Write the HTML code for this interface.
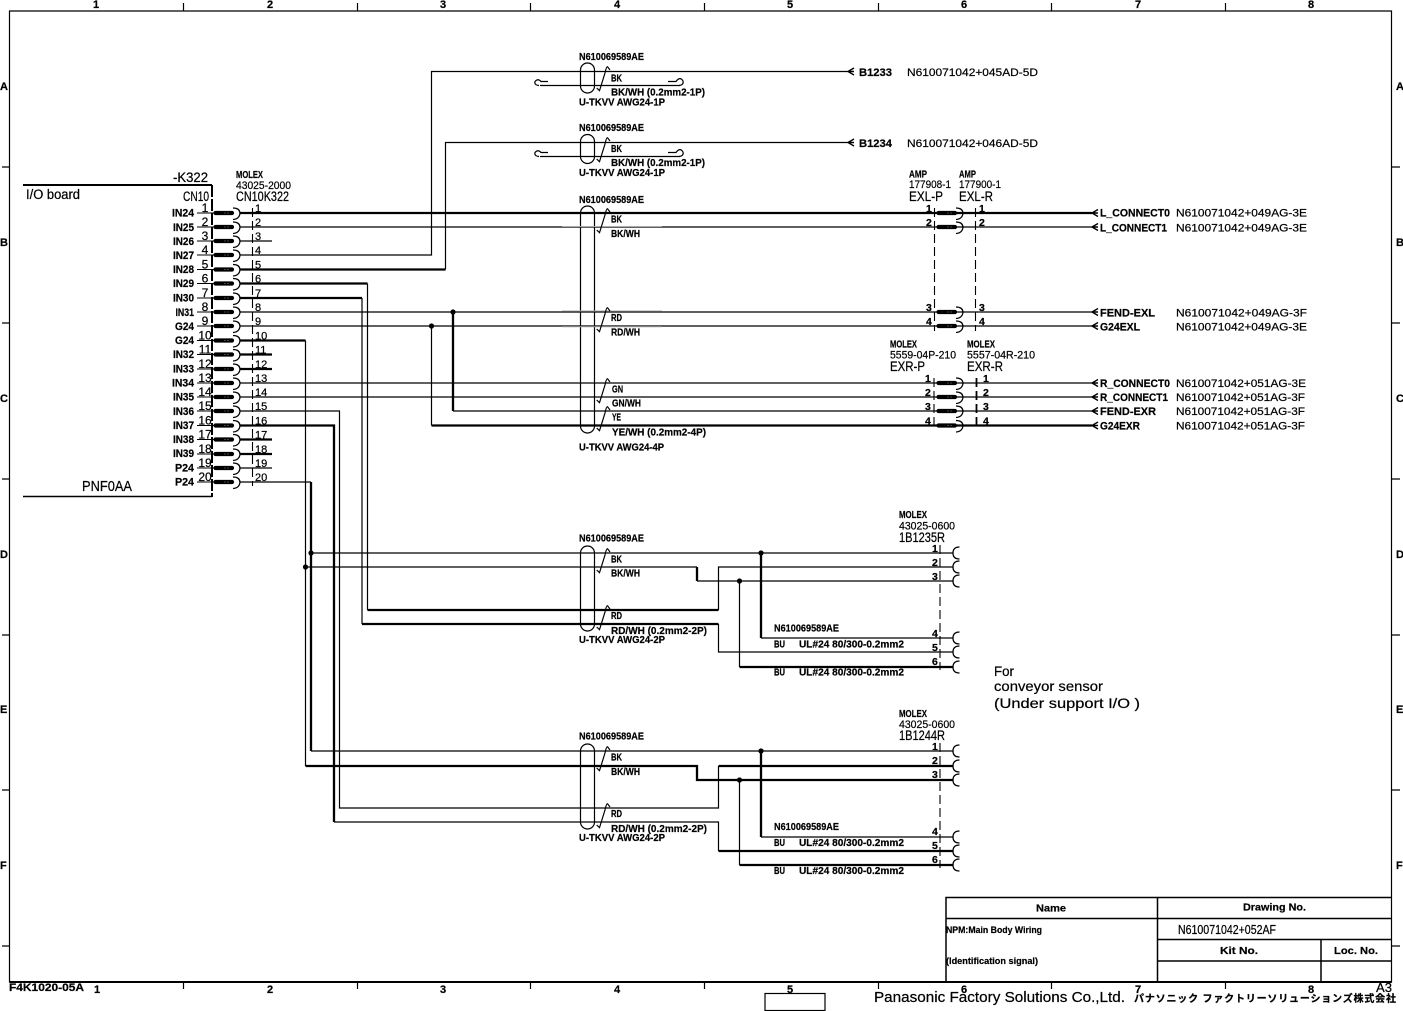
<!DOCTYPE html>
<html><head><meta charset="utf-8"><title>Wiring diagram</title>
<style>
html,body{margin:0;padding:0;background:#fff}
svg{display:block}
text{font-family:"Liberation Sans","Noto Sans CJK JP",sans-serif;fill:#000;stroke:#000;stroke-width:.22px}
.b{font-size:10.5px;font-weight:bold}
.m{font-size:11px;font-weight:bold}
.n{font-size:12px}
.l{font-size:13.5px}
.g{font-size:11px;font-weight:bold}
</style></head><body>
<svg xmlns="http://www.w3.org/2000/svg" width="1403" height="1011" viewBox="0 0 1403 1011">
<defs>
<g id="c" fill="none" stroke="#000"><path d="M1.5 0H18" stroke-width="4.200" stroke-linecap="round"/><path d="M10 0H16" stroke="#888" stroke-width=".5" stroke-dasharray="2 1"/><path d="M19 -5Q25.500 -5 26 0Q25.500 6 19 6.500" stroke-width="1.300"/></g>
<path id="e" d="M6.500 -6Q0 -6 0 0Q0 6 6.500 6" fill="none" stroke="#000" stroke-width="1.300"/>
<path id="a" d="M6 -3.500L0 0L6 3.500M0 0H6" fill="none" stroke="#000" stroke-width="1.400"/>
<path id="t" d="M596.700 17L599.500 19.700L605 2Q606.300 -4.300 607.500 -4.300L610 -1" fill="none" stroke="#000" stroke-width="1.200"/>
</defs>

<!-- frame -->
<g fill="none" stroke="#000">
<path d="M9.500 11H1391.500V982H9.500Z" stroke-width="1.200"/>
<path d="M9.500 982H1391.500" stroke-width="2"/>
<path d="M183.500 3V11M357.500 3V11M530.500 3V11M704.500 3V11M878.500 3V11M1051.500 3V11M1225.500 3V11" stroke-width="1.200"/>
<path d="M183.500 982V989M357.500 982V989M530.500 982V989M704.500 982V989M878.500 982V989M1051.500 982V989M1225.500 982V989" stroke-width="1.200"/>
<path d="M2 167H9M2 323H9M2 479H9M2 635H9M2 790H9M2 946H9M1392 167H1400M1392 323H1400M1392 479H1400M1392 635H1400M1392 790H1400M1392 946H1400" stroke-width="1.200"/>
<!-- title block -->
<path d="M946 981V897.500H1391M1157.500 897.500V981M946 918.500H1391M1157.500 939.500H1391M1157.500 961H1391M1321 939.500V981M946 897.500V981" stroke-width="1.500"/>
<rect x="765" y="993.500" width="60" height="17" stroke-width="1.200"/>
</g>
<g class="b" font-size="10">
<text x="93" y="8" class="m">1</text><text x="267" y="8" class="m">2</text><text x="440" y="8" class="m">3</text><text x="614" y="8" class="m">4</text><text x="787" y="8" class="m">5</text><text x="961" y="8" class="m">6</text><text x="1135" y="8" class="m">7</text><text x="1308" y="8" class="m">8</text>
<text x="94" y="993" class="m">1</text><text x="267" y="993" class="m">2</text><text x="440" y="993" class="m">3</text><text x="614" y="993" class="m">4</text><text x="787" y="993" class="m">5</text><text x="961" y="993" class="m">6</text><text x="1135" y="993" class="m">7</text><text x="1308" y="993" class="m">8</text>
<text x="0" y="90" class="m">A</text><text x="0" y="246" class="m">B</text><text x="0" y="402" class="m">C</text><text x="0" y="558" class="m">D</text><text x="0" y="713" class="m">E</text><text x="0" y="869" class="m">F</text>
<text x="1396" y="90" class="m">A</text><text x="1396" y="246" class="m">B</text><text x="1396" y="402" class="m">C</text><text x="1396" y="558" class="m">D</text><text x="1396" y="713" class="m">E</text><text x="1396" y="869" class="m">F</text>
</g>

<!-- board -->
<g fill="none" stroke="#000">
<path d="M23 185H212" stroke-width="2"/>
<path d="M23 496.500H212" stroke-width="1.500"/>
<path d="M212 185V497" stroke-width="2" stroke-dasharray="12 2"/>
<path d="M252.500 208V486" stroke-width="1.100" stroke-dasharray="9 4"/>
<path d="M197 213H214M197 227H214M197 241H214M197 255H214M197 269.500H214M197 283.500H214M197 298H214M197 312H214M197 326H214M197 340.500H214M197 354.500H214M197 369H214M197 383H214M197 397H214M197 411H214M197 425.500H214M197 439.500H214M197 454H214M197 468H214M197 482H214" stroke-width="1.100"/>
</g>

<!-- thin wires -->
<path fill="none" stroke="#000" stroke-width="1.200" d="M240 227H1092M240 241H272M240 255H431.500V71.500H848M445.500 269.500V142.500H848M240 312H1092M240 326H1092M240 383H1092M240 397H1092M240 411H339.500V808H718.500V766M240 468H272M240 482H311M305.500 340.500V766M311 553H953M305.500 567H697M697 581H953M718.500 610V567H953M761 638H953M739.500 581V667M718.500 624V652H953M311 751H953M718.500 808V766M334 822H718.500V851M761 837H953M739.500 780V865M367.500 283.500V610M362 298V624M453 411H1092M431.500 326V425.500M540 85.500H680M540 156.500H680"/>
<!-- thick wires -->
<path fill="none" stroke="#000" stroke-width="2.300" d="M240 213H1092M240 269.500H445.500M240 283.500H367.500M240 298H362M240 340.500H305.500M240 354.500H272M240 369H272M240 425.500H334V822M240 439.500H272M240 454H272M311 482V751M367.500 610H718.500M362 624H718.500M697 567V581M761 553V638M739.500 667H953M305.500 766H697V780H953M718.500 766H953M718.500 851H953M761 751V837M739.500 865H953M453 312V411M431.500 425.500H1092"/>
<!-- dots -->
<g fill="#000"><circle cx="453" cy="312" r="2.600"/><circle cx="431.500" cy="326" r="2.600"/><circle cx="311" cy="553" r="2.600"/><circle cx="305.500" cy="567" r="2.600"/><circle cx="761" cy="553" r="2.600"/><circle cx="739.500" cy="581" r="2.600"/><circle cx="761" cy="751" r="2.600"/><circle cx="739.500" cy="780" r="2.600"/></g>

<!-- curls -->
<g fill="none" stroke="#000" stroke-width="1.200">
<path d="M548 81.500H541Q538 78 535 81.500Q534 85 539 85.500"/><path d="M668 81.500H676Q680 76 683 81Q684 85 679 85.500"/>
<path d="M548 152.500H541Q538 149 535 152.500Q534 156 539 156.500"/><path d="M668 152.500H676Q680 147 683 152Q684 156 679 156.500"/>
</g>

<!-- cable ovals -->
<g fill="none" stroke="#000" stroke-width="1.200">
<rect x="580.500" y="63" width="14" height="30" rx="7"/>
<rect x="580.500" y="134.500" width="14" height="29" rx="7"/>
<rect x="580.500" y="206" width="14" height="227" rx="7"/>
<rect x="580.500" y="546" width="14" height="85" rx="7"/>
<rect x="580.500" y="744" width="14" height="85" rx="7"/>
</g>
<path d="M562 226.500H662M562 311H662M562 326.800H662" stroke="#aaa" stroke-width="1" fill="none"/>
<use href="#t" transform="translate(0,71)"/><use href="#t" transform="translate(0,142)"/><use href="#t" transform="translate(0,213)"/><use href="#t" transform="translate(0,312)"/><use href="#t" transform="translate(0,383)"/><use href="#t" transform="translate(0,411)"/><use href="#t" transform="translate(0,553)"/><use href="#t" transform="translate(0,610)"/><use href="#t" transform="translate(0,751)"/><use href="#t" transform="translate(0,808)"/>

<!-- left connectors -->
<use href="#c" x="214" y="213"/><use href="#c" x="214" y="227"/><use href="#c" x="214" y="241"/><use href="#c" x="214" y="255"/><use href="#c" x="214" y="269.500"/><use href="#c" x="214" y="283.500"/><use href="#c" x="214" y="298"/><use href="#c" x="214" y="312"/><use href="#c" x="214" y="326"/><use href="#c" x="214" y="340.500"/><use href="#c" x="214" y="354.500"/><use href="#c" x="214" y="369"/><use href="#c" x="214" y="383"/><use href="#c" x="214" y="397"/><use href="#c" x="214" y="411"/><use href="#c" x="214" y="425.500"/><use href="#c" x="214" y="439.500"/><use href="#c" x="214" y="454"/><use href="#c" x="214" y="468"/><use href="#c" x="214" y="482"/>
<!-- middle connectors -->
<use href="#c" x="937" y="213"/><use href="#c" x="937" y="227"/><use href="#c" x="937" y="312"/><use href="#c" x="937" y="326"/><use href="#c" x="937" y="383"/><use href="#c" x="937" y="397"/><use href="#c" x="937" y="411"/><use href="#c" x="937" y="425.500"/>
<path d="M934.500 208V331M975.500 208V331M934 378V430" fill="none" stroke="#000" stroke-width="1.100" stroke-dasharray="9 4"/>
<path d="M976.500 378V430" fill="none" stroke="#000" stroke-width="1.800" stroke-dasharray="9 4"/>
<!-- end connectors -->
<use href="#e" x="953" y="553"/><use href="#e" x="953" y="567"/><use href="#e" x="953" y="581"/><use href="#e" x="953" y="638"/><use href="#e" x="953" y="652"/><use href="#e" x="953" y="667"/><use href="#e" x="953" y="751"/><use href="#e" x="953" y="766"/><use href="#e" x="953" y="780"/><use href="#e" x="953" y="837"/><use href="#e" x="953" y="851"/><use href="#e" x="953" y="865"/>
<path d="M940 545V670M940 743V868" fill="none" stroke="#000" stroke-width="1.100" stroke-dasharray="9 4"/>
<!-- arrows -->
<use href="#a" x="848" y="71.500"/><use href="#a" x="848" y="142.500"/><use href="#a" x="1092" y="213"/><use href="#a" x="1092" y="227"/><use href="#a" x="1092" y="312"/><use href="#a" x="1092" y="326"/><use href="#a" x="1092" y="383"/><use href="#a" x="1092" y="397"/><use href="#a" x="1092" y="411"/><use href="#a" x="1092" y="425.500"/>

<!-- board text -->
<text x="173" y="182" font-size="14" textLength="35" lengthAdjust="spacingAndGlyphs">-K322</text>
<text x="183" y="201" class="l" textLength="26" lengthAdjust="spacingAndGlyphs">CN10</text>
<text x="26" y="199" class="l" textLength="54" lengthAdjust="spacingAndGlyphs">I/O board</text>
<text x="82" y="491" font-size="15" textLength="50" lengthAdjust="spacingAndGlyphs">PNF0AA</text>
<text x="236" y="178" class="b" textLength="27" lengthAdjust="spacingAndGlyphs">MOLEX</text>
<text x="236" y="189" font-size="11" textLength="55" lengthAdjust="spacingAndGlyphs">43025-2000</text>
<text x="236" y="201" class="l" textLength="53" lengthAdjust="spacingAndGlyphs">CN10K322</text>

<g class="g">
<text x="172" y="216.500" textLength="22" lengthAdjust="spacingAndGlyphs">IN24</text>
<text x="173" y="231" textLength="21" lengthAdjust="spacingAndGlyphs">IN25</text>
<text x="173" y="245" textLength="21" lengthAdjust="spacingAndGlyphs">IN26</text>
<text x="173" y="259" textLength="21" lengthAdjust="spacingAndGlyphs">IN27</text>
<text x="173" y="273" textLength="21" lengthAdjust="spacingAndGlyphs">IN28</text>
<text x="173" y="287" textLength="21" lengthAdjust="spacingAndGlyphs">IN29</text>
<text x="173" y="301.500" textLength="21" lengthAdjust="spacingAndGlyphs">IN30</text>
<text x="175.500" y="316" textLength="18.500" lengthAdjust="spacingAndGlyphs">IN31</text>
<text x="175" y="330" textLength="19" lengthAdjust="spacingAndGlyphs">G24</text>
<text x="175" y="344" textLength="19" lengthAdjust="spacingAndGlyphs">G24</text>
<text x="173" y="358" textLength="21" lengthAdjust="spacingAndGlyphs">IN32</text>
<text x="173" y="372.500" textLength="21" lengthAdjust="spacingAndGlyphs">IN33</text>
<text x="172" y="386.500" textLength="22" lengthAdjust="spacingAndGlyphs">IN34</text>
<text x="173" y="400.500" textLength="21" lengthAdjust="spacingAndGlyphs">IN35</text>
<text x="173" y="415" textLength="21" lengthAdjust="spacingAndGlyphs">IN36</text>
<text x="173" y="429" textLength="21" lengthAdjust="spacingAndGlyphs">IN37</text>
<text x="173" y="443" textLength="21" lengthAdjust="spacingAndGlyphs">IN38</text>
<text x="173" y="457" textLength="21" lengthAdjust="spacingAndGlyphs">IN39</text>
<text x="175" y="471.500" textLength="19" lengthAdjust="spacingAndGlyphs">P24</text>
<text x="175" y="485.500" textLength="19" lengthAdjust="spacingAndGlyphs">P24</text>
</g>
<g class="n" text-anchor="middle">
<text x="205" y="212">1</text><text x="205" y="226">2</text><text x="205" y="240">3</text><text x="205" y="254">4</text><text x="205" y="268.500">5</text><text x="205" y="282.500">6</text><text x="205" y="297">7</text><text x="205" y="311">8</text><text x="205" y="325">9</text><text x="205" y="339.500">10</text><text x="205" y="353.500">11</text><text x="205" y="368">12</text><text x="205" y="382">13</text><text x="205" y="396">14</text><text x="205" y="410">15</text><text x="205" y="424.500">16</text><text x="205" y="438.500">17</text><text x="205" y="453">18</text><text x="205" y="467">19</text><text x="205" y="481">20</text>
</g>
<g font-size="11">
<text x="255" y="212">1</text><text x="255" y="226">2</text><text x="255" y="240">3</text><text x="255" y="254">4</text><text x="255" y="268.500">5</text><text x="255" y="282.500">6</text><text x="255" y="297">7</text><text x="255" y="311">8</text><text x="255" y="325">9</text><text x="255" y="339.500">10</text><text x="255" y="353.500">11</text><text x="255" y="368">12</text><text x="255" y="382">13</text><text x="255" y="396">14</text><text x="255" y="410">15</text><text x="255" y="424.500">16</text><text x="255" y="438.500">17</text><text x="255" y="453">18</text><text x="255" y="467">19</text><text x="255" y="481">20</text>
</g>

<!-- cable labels -->
<g class="b">
<text x="579" y="60" textLength="65" lengthAdjust="spacingAndGlyphs">N610069589AE</text>
<text x="611" y="81.500" textLength="11" lengthAdjust="spacingAndGlyphs">BK</text>
<text x="611" y="95.500" textLength="94" lengthAdjust="spacingAndGlyphs">BK/WH (0.2mm2-1P)</text>
<text x="579" y="105.500" textLength="86" lengthAdjust="spacingAndGlyphs">U-TKVV AWG24-1P</text>
<text x="579" y="131" textLength="65" lengthAdjust="spacingAndGlyphs">N610069589AE</text>
<text x="611" y="152" textLength="11" lengthAdjust="spacingAndGlyphs">BK</text>
<text x="611" y="166" textLength="94" lengthAdjust="spacingAndGlyphs">BK/WH (0.2mm2-1P)</text>
<text x="579" y="176" textLength="86" lengthAdjust="spacingAndGlyphs">U-TKVV AWG24-1P</text>
<text x="579" y="203" textLength="65" lengthAdjust="spacingAndGlyphs">N610069589AE</text>
<text x="611" y="222.500" textLength="11" lengthAdjust="spacingAndGlyphs">BK</text>
<text x="611" y="237" textLength="29" lengthAdjust="spacingAndGlyphs">BK/WH</text>
<text x="611" y="321" textLength="11" lengthAdjust="spacingAndGlyphs">RD</text>
<text x="611" y="335.500" textLength="29" lengthAdjust="spacingAndGlyphs">RD/WH</text>
<text x="612" y="392.500" textLength="11" lengthAdjust="spacingAndGlyphs">GN</text>
<text x="612" y="406.500" textLength="29" lengthAdjust="spacingAndGlyphs">GN/WH</text>
<text x="612" y="420.500" textLength="9" lengthAdjust="spacingAndGlyphs">YE</text>
<text x="612" y="435.500" textLength="94" lengthAdjust="spacingAndGlyphs">YE/WH (0.2mm2-4P)</text>
<text x="579" y="450.500" textLength="85" lengthAdjust="spacingAndGlyphs">U-TKVV AWG24-4P</text>

<text x="579" y="541.500" textLength="65" lengthAdjust="spacingAndGlyphs">N610069589AE</text>
<text x="611" y="562.500" textLength="11" lengthAdjust="spacingAndGlyphs">BK</text>
<text x="611" y="576.500" textLength="29" lengthAdjust="spacingAndGlyphs">BK/WH</text>
<text x="611" y="619" textLength="11" lengthAdjust="spacingAndGlyphs">RD</text>
<text x="611" y="634" textLength="96" lengthAdjust="spacingAndGlyphs">RD/WH (0.2mm2-2P)</text>
<text x="579" y="643" textLength="86" lengthAdjust="spacingAndGlyphs">U-TKVV AWG24-2P</text>

<text x="579" y="739.500" textLength="65" lengthAdjust="spacingAndGlyphs">N610069589AE</text>
<text x="611" y="760.500" textLength="11" lengthAdjust="spacingAndGlyphs">BK</text>
<text x="611" y="775" textLength="29" lengthAdjust="spacingAndGlyphs">BK/WH</text>
<text x="611" y="817" textLength="11" lengthAdjust="spacingAndGlyphs">RD</text>
<text x="611" y="832" textLength="96" lengthAdjust="spacingAndGlyphs">RD/WH (0.2mm2-2P)</text>
<text x="579" y="841" textLength="86" lengthAdjust="spacingAndGlyphs">U-TKVV AWG24-2P</text>

<text x="774" y="631.500" textLength="65" lengthAdjust="spacingAndGlyphs">N610069589AE</text>
<text x="774" y="647.500" textLength="11" lengthAdjust="spacingAndGlyphs">BU</text>
<text x="799" y="647.500" textLength="105" lengthAdjust="spacingAndGlyphs">UL#24 80/300-0.2mm2</text>
<text x="774" y="675.500" textLength="11" lengthAdjust="spacingAndGlyphs">BU</text>
<text x="799" y="675.500" textLength="105" lengthAdjust="spacingAndGlyphs">UL#24 80/300-0.2mm2</text>

<text x="774" y="830" textLength="65" lengthAdjust="spacingAndGlyphs">N610069589AE</text>
<text x="774" y="846" textLength="11" lengthAdjust="spacingAndGlyphs">BU</text>
<text x="799" y="846" textLength="105" lengthAdjust="spacingAndGlyphs">UL#24 80/300-0.2mm2</text>
<text x="774" y="874" textLength="11" lengthAdjust="spacingAndGlyphs">BU</text>
<text x="799" y="874" textLength="105" lengthAdjust="spacingAndGlyphs">UL#24 80/300-0.2mm2</text>

<text x="909" y="177.500" textLength="18" lengthAdjust="spacingAndGlyphs">AMP</text>
<text x="959" y="177.500" textLength="17" lengthAdjust="spacingAndGlyphs">AMP</text>
<text x="890" y="347.500" textLength="27" lengthAdjust="spacingAndGlyphs">MOLEX</text>
<text x="967" y="347.500" textLength="28" lengthAdjust="spacingAndGlyphs">MOLEX</text>
<text x="899" y="518" textLength="28" lengthAdjust="spacingAndGlyphs">MOLEX</text>
<text x="899" y="717" textLength="28" lengthAdjust="spacingAndGlyphs">MOLEX</text>
</g>
<g font-size="11">
<text x="909" y="188" textLength="42" lengthAdjust="spacingAndGlyphs">177908-1</text>
<text x="959" y="188" textLength="42" lengthAdjust="spacingAndGlyphs">177900-1</text>
<text x="890" y="358.500" textLength="66" lengthAdjust="spacingAndGlyphs">5559-04P-210</text>
<text x="967" y="358.500" textLength="68" lengthAdjust="spacingAndGlyphs">5557-04R-210</text>
<text x="899" y="529.500" textLength="56" lengthAdjust="spacingAndGlyphs">43025-0600</text>
<text x="899" y="728" textLength="56" lengthAdjust="spacingAndGlyphs">43025-0600</text>
</g>
<g class="l">
<text x="909" y="201" textLength="34" lengthAdjust="spacingAndGlyphs">EXL-P</text>
<text x="959" y="201" textLength="34" lengthAdjust="spacingAndGlyphs">EXL-R</text>
<text x="890" y="371" textLength="35" lengthAdjust="spacingAndGlyphs">EXR-P</text>
<text x="967" y="371" textLength="36" lengthAdjust="spacingAndGlyphs">EXR-R</text>
<text x="899" y="542" textLength="46" lengthAdjust="spacingAndGlyphs">1B1235R</text>
<text x="899" y="740" textLength="46" lengthAdjust="spacingAndGlyphs">1B1244R</text>
</g>
<g font-size="10.500" font-weight="bold">
<text x="926" y="212">1</text><text x="926" y="226">2</text><text x="926" y="311">3</text><text x="926" y="325">4</text>
<text x="979" y="212">1</text><text x="979" y="226">2</text><text x="979" y="311">3</text><text x="979" y="325">4</text>
<text x="925" y="382">1</text><text x="925" y="396">2</text><text x="925" y="410">3</text><text x="925" y="424.500">4</text>
<text x="983" y="382">1</text><text x="983" y="396">2</text><text x="983" y="410">3</text><text x="983" y="424.500">4</text>
<text x="932" y="552">1</text><text x="932" y="566">2</text><text x="932" y="580">3</text><text x="932" y="637">4</text><text x="932" y="651">5</text><text x="932" y="665">6</text>
<text x="932" y="750">1</text><text x="932" y="764">2</text><text x="932" y="778">3</text><text x="932" y="835">4</text><text x="932" y="849">5</text><text x="932" y="863">6</text>
</g>

<!-- signal labels -->
<g font-size="11" font-weight="bold">
<text x="859" y="76" textLength="33" lengthAdjust="spacingAndGlyphs">B1233</text>
<text x="859" y="147" textLength="33" lengthAdjust="spacingAndGlyphs">B1234</text>
<text x="1100" y="216.500" textLength="70" lengthAdjust="spacingAndGlyphs">L_CONNECT0</text>
<text x="1100" y="231.500" textLength="67" lengthAdjust="spacingAndGlyphs">L_CONNECT1</text>
<text x="1100" y="316.500" textLength="55" lengthAdjust="spacingAndGlyphs">FEND-EXL</text>
<text x="1100" y="330.500" textLength="40" lengthAdjust="spacingAndGlyphs">G24EXL</text>
<text x="1100" y="387" textLength="70" lengthAdjust="spacingAndGlyphs">R_CONNECT0</text>
<text x="1100" y="401" textLength="68" lengthAdjust="spacingAndGlyphs">R_CONNECT1</text>
<text x="1100" y="415" textLength="56" lengthAdjust="spacingAndGlyphs">FEND-EXR</text>
<text x="1100" y="429.500" textLength="40" lengthAdjust="spacingAndGlyphs">G24EXR</text>
</g>
<g font-size="11">
<text x="907" y="76" textLength="131" lengthAdjust="spacingAndGlyphs">N610071042+045AD-5D</text>
<text x="907" y="147" textLength="131" lengthAdjust="spacingAndGlyphs">N610071042+046AD-5D</text>
<text x="1176" y="216.500" textLength="131" lengthAdjust="spacingAndGlyphs">N610071042+049AG-3E</text>
<text x="1176" y="231.500" textLength="131" lengthAdjust="spacingAndGlyphs">N610071042+049AG-3E</text>
<text x="1176" y="316.500" textLength="131" lengthAdjust="spacingAndGlyphs">N610071042+049AG-3F</text>
<text x="1176" y="330.500" textLength="131" lengthAdjust="spacingAndGlyphs">N610071042+049AG-3E</text>
<text x="1176" y="387" textLength="130" lengthAdjust="spacingAndGlyphs">N610071042+051AG-3E</text>
<text x="1176" y="401" textLength="129" lengthAdjust="spacingAndGlyphs">N610071042+051AG-3F</text>
<text x="1176" y="415" textLength="129" lengthAdjust="spacingAndGlyphs">N610071042+051AG-3F</text>
<text x="1176" y="429.500" textLength="129" lengthAdjust="spacingAndGlyphs">N610071042+051AG-3F</text>
</g>

<!-- note -->
<g font-size="14">
<text x="994" y="676" textLength="20" lengthAdjust="spacingAndGlyphs">For</text>
<text x="994" y="691" textLength="109" lengthAdjust="spacingAndGlyphs">conveyor sensor</text>
<text x="994" y="708" textLength="146" lengthAdjust="spacingAndGlyphs">(Under support I/O )</text>
</g>

<!-- title text -->
<text x="1036" y="911.500" class="b" textLength="30" lengthAdjust="spacingAndGlyphs">Name</text>
<text x="1243" y="910.500" class="b" textLength="63" lengthAdjust="spacingAndGlyphs">Drawing No.</text>
<text x="946" y="933" font-size="9.500" font-weight="bold" textLength="96" lengthAdjust="spacingAndGlyphs">NPM:Main Body Wiring</text>
<text x="946" y="964" font-size="9.500" font-weight="bold" textLength="92" lengthAdjust="spacingAndGlyphs">(Identification signal)</text>
<text x="1178" y="934" font-size="12.500" textLength="98" lengthAdjust="spacingAndGlyphs">N610071042+052AF</text>
<text x="1220" y="954" class="b" textLength="38" lengthAdjust="spacingAndGlyphs">Kit No.</text>
<text x="1334" y="954" class="b" textLength="44" lengthAdjust="spacingAndGlyphs">Loc. No.</text>
<text x="9" y="991" font-size="11" font-weight="bold" textLength="75" lengthAdjust="spacingAndGlyphs">F4K1020-05A</text>
<text x="1376" y="992" font-size="13" textLength="16" lengthAdjust="spacingAndGlyphs">A3</text>
<text x="874" y="1002" font-size="14.500" textLength="251" lengthAdjust="spacingAndGlyphs">Panasonic Factory Solutions Co.,Ltd.</text>
<text x="1134" y="1002" font-size="10" font-weight="bold" textLength="262" lengthAdjust="spacing">パナソニック ファクトリーソリューションズ株式会社</text>
</svg>
</body></html>
